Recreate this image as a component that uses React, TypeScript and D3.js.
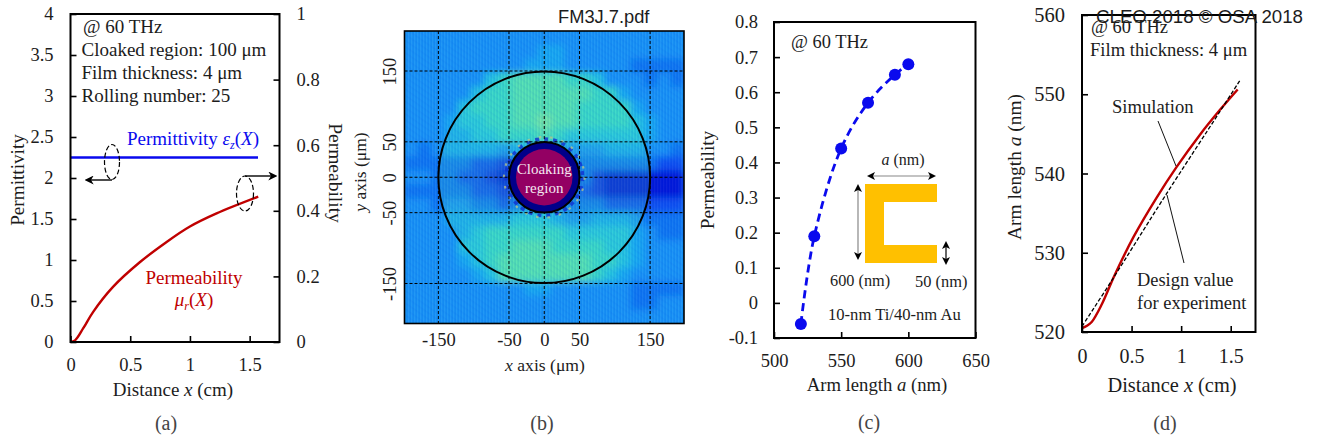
import React, { useEffect, useRef } from "react";
import * as d3 from "d3";

const SERIF = "'Liberation Serif', 'Times New Roman', serif";
const SANS = "'Liberation Sans', Arial, sans-serif";
const INK = "#1c1c1c";
const BLUE = "#0a0aee";
const RED = "#c00000";

// panel (a)
const distTicks = [0, 0.5, 1, 1.5];
const permittivityTicks = [0, 0.5, 1, 1.5, 2, 2.5, 3, 3.5, 4];
const permeabilityTicks = [0, 0.2, 0.4, 0.6, 0.8, 1];
const permittivityX = [0, 1.57];
const permittivityY = [2.25, 2.25];
const muX = [0, 0.038, 0.107, 0.19, 0.356, 0.58, 0.805, 1.0, 1.223, 1.572];
const muY = [0, 0.005, 0.042, 0.092, 0.168, 0.243, 0.305, 0.352, 0.392, 0.443];

// panel (b)
const fieldTicks = [-150, -50, 0, 50, 150];
// field strength by eye, 0 = deep blue, 9 = pale green, rows from the top
const fieldRows = [
	[4, 4, 4, 4, 4, 4, 4, 4, 4, 4, 4, 4, 4, 4, 4, 4, 4, 4, 4, 4, 4],
	[4, 4, 4, 4, 4, 4, 4, 4, 4, 4, 5, 5, 4, 4, 4, 4, 4, 4, 4, 4, 4],
	[4, 4, 4, 4, 4, 4, 4, 4, 4, 5, 5, 5, 4, 4, 4, 4, 4, 3, 3, 3, 3],
	[4, 4, 4, 4, 4, 4, 6, 7, 8, 8, 8, 8, 7, 7, 6, 4, 4, 4, 3, 4, 3],
	[4, 4, 4, 4, 4, 6, 7, 7, 8, 8, 8, 8, 8, 8, 7, 7, 5, 4, 4, 4, 4],
	[4, 4, 4, 4, 6, 7, 7, 7, 8, 8, 8, 8, 8, 7, 7, 7, 7, 5, 4, 4, 4],
	[4, 4, 4, 5, 6, 6, 7, 7, 8, 8, 9, 8, 8, 7, 7, 7, 7, 6, 5, 4, 4],
	[4, 4, 4, 5, 5, 6, 6, 7, 7, 7, 8, 7, 6, 6, 6, 6, 6, 6, 5, 4, 4],
	[4, 3, 4, 5, 5, 5, 5, 4, 5, 5, 5, 5, 4, 4, 4, 5, 5, 5, 4, 4, 3],
	[3, 3, 3, 3, 3, 2, 2, 1, 2, 3, 3, 3, 3, 3, 3, 3, 3, 3, 3, 2, 2],
	[4, 4, 3, 3, 2, 2, 1, 0, 1, 2, 2, 2, 2, 3, 1, 0, 0, 0, 0, 0, 0],
	[3, 3, 3, 3, 3, 2, 2, 1, 2, 2, 2, 3, 3, 2, 1, 0, 0, 0, 0, 0, 0],
	[4, 4, 3, 4, 4, 3, 3, 2, 3, 4, 5, 4, 3, 3, 3, 2, 2, 2, 2, 2, 2],
	[4, 4, 4, 5, 5, 5, 5, 5, 6, 6, 6, 5, 4, 4, 5, 5, 5, 4, 3, 3, 3],
	[4, 4, 4, 4, 5, 6, 7, 7, 7, 7, 7, 7, 6, 6, 6, 6, 6, 5, 4, 3, 3],
	[4, 4, 4, 4, 6, 6, 7, 7, 8, 8, 8, 7, 7, 7, 7, 6, 6, 5, 4, 4, 4],
	[4, 4, 4, 4, 5, 6, 7, 8, 8, 8, 8, 8, 8, 8, 7, 7, 6, 5, 4, 4, 4],
	[4, 4, 4, 4, 4, 5, 6, 8, 8, 8, 8, 8, 8, 8, 7, 6, 5, 4, 4, 4, 4],
	[4, 4, 4, 4, 4, 4, 4, 4, 4, 5, 5, 4, 4, 4, 4, 4, 4, 3, 3, 3, 3],
	[4, 4, 4, 4, 4, 4, 4, 4, 4, 4, 4, 4, 4, 4, 4, 4, 4, 3, 3, 4, 4],
	[4, 4, 4, 4, 4, 4, 4, 4, 4, 4, 4, 4, 4, 4, 4, 4, 4, 4, 4, 4, 4],
];
const fieldLevels = [0, 2, 3, 4, 5, 6, 7, 8, 9];
const fieldColors = ["#0515d8", "#0a50f0", "#0f75f0", "#1292f4", "#15a8f0", "#20c4e0", "#35d6c8", "#55e0b0", "#80e8a0"];

// panel (c)
const armTicks = [500, 550, 600, 650];
const permTicks = [-0.1, 0, 0.1, 0.2, 0.3, 0.4, 0.5, 0.6, 0.7, 0.8];
const armLength = [520, 530, 550, 570, 590, 600];
const armPerm = [-0.06, 0.19, 0.44, 0.57, 0.65, 0.68];

// panel (d)
const armAxisTicks = [520, 530, 540, 550, 560];
const simX = [0, 0.05, 0.1, 0.2, 0.33, 0.52, 0.75, 0.953, 1.19, 1.39, 1.57];
const simY = [520.5, 520.8, 521.3, 523.5, 527.2, 532, 536.9, 540.8, 544.9, 548, 550.6];
const designX = [0, 0.3, 0.85, 1.39, 1.59];
const designY = [520.7, 526.5, 537.4, 547.8, 551.7];

const xA = d3.scaleLinear().domain([0, 1.75]).range([70.5, 279.5]);
const yA = d3.scaleLinear().domain([0, 4]).range([342, 14]);
const yA2 = d3.scaleLinear().domain([0, 1]).range([342, 14]);
const xB = d3.scaleLinear().domain([-198, 198]).range([404.5, 684]);
const yB = d3.scaleLinear().domain([-206.5, 206.5]).range([323.5, 31]);
const xC = d3.scaleLinear().domain([500, 650]).range([774, 975.5]);
const yC = d3.scaleLinear().domain([-0.1, 0.8]).range([338, 22]);
const xD = d3.scaleLinear().domain([0, 1.75]).range([1082, 1255.5]);
const yD = d3.scaleLinear().domain([520, 560]).range([332, 15]);

const fieldColor = d3.scaleLinear<string>().domain(fieldLevels).range(fieldColors);
const colBand = d3.scaleBand<number>().domain(d3.range(21)).range([404.5, 684]);
const rowBand = d3.scaleBand<number>().domain(d3.range(21)).range([31, 323.5]);

const linePath = (xs: number[], ys: number[], x: any, y: any, curve: any = d3.curveCatmullRom) =>
	d3
		.line<number>()
		.x((d) => x(d))
		.y((_, i) => y(ys[i]))
		.curve(curve)(xs) as string;

const Label = ({ x, y, size = 17, fill = INK, anchor = "start", rotate, children }: any) => (
	<text
		x={x}
		y={y}
		fontSize={size}
		fill={fill}
		textAnchor={anchor}
		transform={rotate ? `rotate(${rotate} ${x} ${y})` : undefined}
	>
		{children}
	</text>
);

const It = ({ children }: any) => <tspan fontStyle="italic">{children}</tspan>;

const Axes = () => {
	const ref = useRef<SVGGElement>(null);

	useEffect(() => {
		const root = d3.select(ref.current);
		root.selectAll("*").remove();

		const draw = (axis: any, translate: string, size = 18.5) => {
			const g = root.append("g").attr("transform", translate).call(axis);
			g.select(".domain").remove();
			g.selectAll("line").attr("stroke", "#000").attr("stroke-width", 1.6);
			g.selectAll("text").attr("fill", INK);
			g.attr("font-family", SERIF).attr("font-size", size);
			return g;
		};
		const plain = (d: any) => String(d);

		draw(d3.axisBottom(xA).tickValues(distTicks).tickFormat(plain).tickSize(-6).tickPadding(16), "translate(0,342)");
		draw(d3.axisLeft(yA).tickValues(permittivityTicks).tickFormat(plain).tickSize(-6).tickPadding(17), "translate(70.5,0)");
		draw(d3.axisRight(yA2).tickValues(permeabilityTicks).tickFormat(plain).tickSize(-6).tickPadding(17), "translate(279.5,0)");

		draw(d3.axisBottom(xB).tickValues(fieldTicks).tickFormat(plain).tickSize(0).tickPadding(9), "translate(0,323.5)");
		const by = draw(d3.axisLeft(yB).tickValues(fieldTicks).tickFormat(plain).tickSize(0).tickPadding(0), "translate(396,0)");
		by.selectAll("text")
			.attr("x", 0)
			.attr("dy", 0)
			.attr("text-anchor", "middle")
			.attr("transform", "rotate(-90)");

		draw(d3.axisBottom(xC).tickValues(armTicks).tickFormat(plain).tickSize(-6).tickPadding(16), "translate(0,338)");
		draw(d3.axisLeft(yC).tickValues(permTicks).tickFormat(plain).tickSize(-6).tickPadding(16), "translate(774,0)");

		draw(d3.axisBottom(xD).tickValues(distTicks).tickFormat(plain).tickSize(-6).tickPadding(17), "translate(0,332)", 20);
		draw(d3.axisLeft(yD).tickValues(armAxisTicks).tickFormat(plain).tickSize(-6).tickPadding(17), "translate(1082,0)", 20.5);
	}, []);

	return <g ref={ref} />;
};

const Field = () => {
	const cx = xB(0);
	const cy = yB(0);
	const rOuter = xB(150) - cx;
	const rCloak = xB(50) - cx;
	return (
		<g>
			<defs>
				<clipPath id="fieldClip">
					<rect x={xB(-198)} y={yB(206.5)} width={xB(198) - xB(-198)} height={yB(-206.5) - yB(206.5)} />
				</clipPath>
				<filter id="soft" x="-10%" y="-10%" width="120%" height="120%">
					<feGaussianBlur stdDeviation="3.5" />
				</filter>
				<pattern id="ripple" width="3" height="8" patternUnits="userSpaceOnUse">
					<rect width="1.2" height="8" fill="#ffffff" opacity="0.05" />
					<rect x="1.5" width="1.2" height="8" fill="#0030e0" opacity="0.1" />
				</pattern>
				<pattern id="ripple2" width="5" height="5" patternUnits="userSpaceOnUse" patternTransform="rotate(35)">
					<rect width="5" height="1.6" fill="#0030e0" opacity="0.05" />
				</pattern>
			</defs>
			<g clipPath="url(#fieldClip)">
				<rect x={xB(-198)} y={yB(206.5)} width={xB(198) - xB(-198)} height={yB(-206.5) - yB(206.5)} fill={fieldColor(4)} />
				<g filter="url(#soft)">
					{fieldRows.map((row, r) =>
						row.map((v, c) => (
							<rect
								key={`${r}-${c}`}
								x={colBand(c)}
								y={rowBand(r)}
								width={colBand.bandwidth() + 0.5}
								height={rowBand.bandwidth() + 0.5}
								fill={fieldColor(v)}
							/>
						))
					)}
				</g>
				{/* the film region reads greener, with a hard edge at the outer circle */}
				<circle cx={cx} cy={cy} r={rOuter} fill="#45e8b8" opacity="0.2" />
				<rect x={xB(-198)} y={yB(206.5)} width={xB(198) - xB(-198)} height={yB(-206.5) - yB(206.5)} fill="url(#ripple)" />
				<rect x={xB(-198)} y={yB(206.5)} width={xB(198) - xB(-198)} height={yB(-206.5) - yB(206.5)} fill="url(#ripple2)" />
			</g>
			{/* speckle around the cloak */}
			<circle cx={cx} cy={cy} r={rCloak + 3} fill="none" stroke="#1030d0" strokeWidth="3.5" strokeDasharray="4 5" opacity="0.8" />
			<circle cx={cx} cy={cy} r={rCloak + 5} fill="none" stroke="#b8c88a" strokeWidth="2.2" strokeDasharray="2.5 9" opacity="0.75" />
			<circle cx={cx} cy={cy} r={rOuter} fill="none" stroke="#000" strokeWidth="2" />
			{fieldTicks.map((t) => (
				<g key={t} stroke="#000" strokeWidth="1" strokeDasharray="3 2">
					<line x1={xB(t)} x2={xB(t)} y1={yB(206.5)} y2={yB(-206.5)} />
					<line x1={xB(-198)} x2={xB(198)} y1={yB(t)} y2={yB(t)} />
				</g>
			))}
			<circle cx={cx} cy={cy} r={rCloak} fill="#00008a" stroke="#000" strokeWidth="2" />
			<circle cx={cx} cy={cy} r={rCloak * 0.8} fill="#930063" />
			<Label x={cx} y={174} size={15} fill="#f4e6f0" anchor="middle">Cloaking</Label>
			<Label x={cx} y={193} size={15} fill="#f4e6f0" anchor="middle">region</Label>
			<rect x={xB(-198)} y={yB(206.5)} width={xB(198) - xB(-198)} height={yB(-206.5) - yB(206.5)} fill="none" stroke="#000" strokeWidth="1.6" />
		</g>
	);
};

const PanelA = () => (
	<g>
		<path d={linePath(permittivityX, permittivityY, xA, yA, d3.curveLinear)} fill="none" stroke={BLUE} strokeWidth="2.6" />
		<path d={linePath(muX, muY, xA, yA2)} fill="none" stroke={RED} strokeWidth="2.4" />
		<rect x={xA(0)} y={yA(4)} width={xA(1.75) - xA(0)} height={yA(0) - yA(4)} fill="none" stroke="#000" strokeWidth="2" />
		<ellipse cx="112" cy="162" rx="7.5" ry="17.5" fill="none" stroke="#000" strokeWidth="1.2" strokeDasharray="5 2.5" />
		<ellipse cx="245" cy="193.5" rx="8.5" ry="17.5" fill="none" stroke="#000" strokeWidth="1.2" strokeDasharray="5 2.5" />
		<line x1="112" y1="180" x2="91" y2="180" stroke="#000" strokeWidth="1.4" markerEnd="url(#head)" />
		<line x1="245" y1="176" x2="271" y2="176" stroke="#000" strokeWidth="1.4" markerEnd="url(#head)" />
		<Label x={83} y={33} size={19}>@ 60 THz</Label>
		<Label x={81.5} y={56} size={19}>Cloaked region: 100 μm</Label>
		<Label x={81.5} y={79} size={19}>Film thickness: 4 μm</Label>
		<Label x={81.5} y={102} size={19}>Rolling number: 25</Label>
		<Label x={127} y={145} size={19} fill={BLUE}>
			Permittivity <It>ε</It><tspan fontStyle="italic" fontSize="12" dy="4">z</tspan><tspan dy="-4">(</tspan><It>X</It>)
		</Label>
		<Label x={194} y={284} size={19} fill={RED} anchor="middle">Permeability</Label>
		<Label x={194} y={306} size={19} fill={RED} anchor="middle">
			<It>μ</It><tspan fontStyle="italic" fontSize="12" dy="4">r</tspan><tspan dy="-4">(</tspan><It>X</It>)
		</Label>
		<Label x={24} y={180} size={19.2} anchor="middle" rotate={-90}>Permittivity</Label>
		<Label x={329} y={173} size={19.5} anchor="middle" rotate={90}>Permeability</Label>
		<Label x={173} y={396} size={19} anchor="middle">Distance <It>x</It> (cm)</Label>
		<Label x={166} y={430} size={20} fill="#444" anchor="middle">(a)</Label>
	</g>
);

const PanelB = () => (
	<g>
		<Field />
		<Label x={366} y={172} size={17.5} anchor="middle" rotate={-90}><It>y</It> axis (μm)</Label>
		<Label x={545} y={371} size={17.6} anchor="middle"><It>x</It> axis (μm)</Label>
		<Label x={542} y={430} size={20} fill="#444" anchor="middle">(b)</Label>
		<text x={558} y={23} fontFamily={SANS} fontSize="18.3" fill={INK}>FM3J.7.pdf</text>
	</g>
);

const PanelC = () => (
	<g>
		<path d={linePath(armLength, armPerm, xC, yC)} fill="none" stroke={BLUE} strokeWidth="2.8" strokeDasharray="8 5" />
		{armLength.map((d, i) => (
			<circle key={d} cx={xC(d)} cy={yC(armPerm[i])} r="6" fill={BLUE} />
		))}
		<rect x={xC(500)} y={yC(0.8)} width={xC(650) - xC(500)} height={yC(-0.1) - yC(0.8)} fill="none" stroke="#000" strokeWidth="2" />
		{/* C-shaped resonator sketch */}
		<path d="M865 184H937V202H884V245H937V263H865Z" fill="#ffc000" />
		<line x1="870" y1="176" x2="933" y2="176" stroke="#888" strokeWidth="1.2" />
		<line x1="858" y1="188" x2="858" y2="256" stroke="#888" strokeWidth="1.2" />
		<line x1="946" y1="244" x2="946" y2="262" stroke="#000" strokeWidth="1.2" />
		<path d="M867 176l8-4-2 4 2 4zM936 176l-8-4 2 4-2 4zM858 184l-4 8 4-2 4 2zM858 260l-4-8 4 2 4-2zM946 241l-4 8 4-2 4 2zM946 265l-4-8 4 2 4-2z" fill="#000" />
		<Label x={791} y={48} size={18.4}>@ 60 THz</Label>
		<Label x={903} y={165} size={16} anchor="middle"><It>a</It> (nm)</Label>
		<Label x={830} y={286} size={16.3}>600 (nm)</Label>
		<Label x={915} y={287} size={16.4}>50 (nm)</Label>
		<Label x={828} y={320} size={16.6}>10-nm Ti/40-nm Au</Label>
		<Label x={714} y={180} size={19.3} anchor="middle" rotate={-90}>Permeability</Label>
		<Label x={877} y={391} size={18.7} anchor="middle">Arm length <It>a</It> (nm)</Label>
		<Label x={869} y={429} size={20} fill="#444" anchor="middle">(c)</Label>
	</g>
);

const PanelD = () => (
	<g>
		<path d={linePath(simX, simY, xD, yD)} fill="none" stroke={RED} strokeWidth="2.4" />
		<path d={linePath(designX, designY, xD, yD)} fill="none" stroke="#000" strokeWidth="1.3" strokeDasharray="4 2" />
		<rect x={xD(0)} y={yD(560)} width={xD(1.75) - xD(0)} height={yD(520) - yD(560)} fill="none" stroke="#000" strokeWidth="2" />
		<line x1="1158" y1="121" x2="1176" y2="166" stroke="#111" strokeWidth="1" />
		<line x1="1167" y1="195" x2="1184" y2="263" stroke="#111" strokeWidth="1" />
		<Label x={1091} y={33} size={18.4}>@ 60 THz</Label>
		<Label x={1090} y={56} size={18.6}>Film thickness: 4 μm</Label>
		<Label x={1112} y={113} size={18.6}>Simulation</Label>
		<Label x={1137} y={286} size={18.4}>Design value</Label>
		<Label x={1137} y={309} size={18.5}>for experiment</Label>
		<Label x={1021} y={167} size={19.4} anchor="middle" rotate={-90}>Arm length <It>a</It> (nm)</Label>
		<Label x={1172} y={392} size={20.4} anchor="middle">Distance <It>x</It> (cm)</Label>
		<Label x={1165} y={430} size={20} fill="#444" anchor="middle">(d)</Label>
		<text x={1096} y={23} fontFamily={SANS} fontSize="18.7" fill={INK}>CLEO 2018 © OSA 2018</text>
	</g>
);

export default function App() {
	return (
		<svg
			width={1317}
			height={441}
			fontFamily={SERIF}
			style={{ position: "absolute", left: 0, top: 0, display: "block", background: "#fff" }}
		>
			<defs>
				<marker id="head" viewBox="0 0 10 10" refX="3" refY="5" markerWidth="9" markerHeight="9" markerUnits="userSpaceOnUse" orient="auto">
					<path d="M0 0L10 5L0 10L3 5Z" fill="#000" />
				</marker>
			</defs>
			<PanelA />
			<PanelB />
			<PanelC />
			<PanelD />
			<Axes />
		</svg>
	);
}
